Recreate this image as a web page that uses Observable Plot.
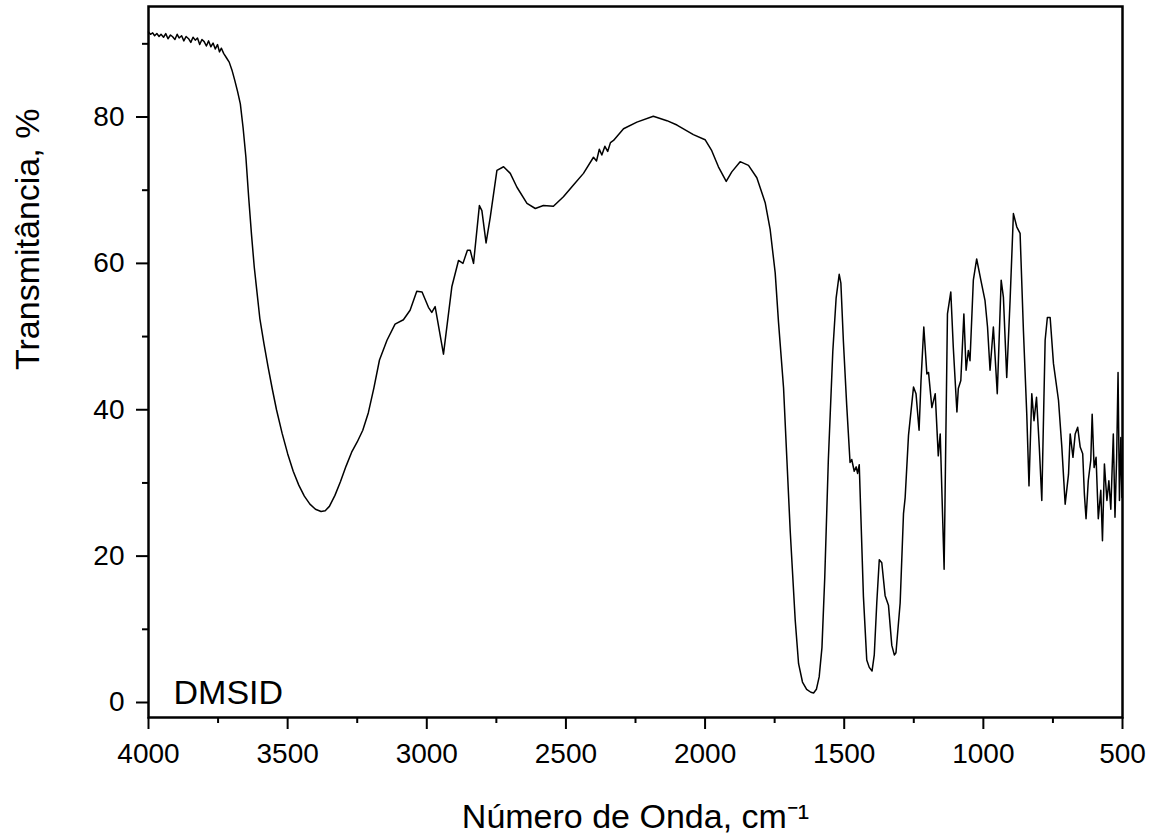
<!DOCTYPE html>
<html><head><meta charset="utf-8">
<script src="https://cdn.jsdelivr.net/npm/d3@7"></script>
<script src="https://cdn.jsdelivr.net/npm/@observablehq/plot@0.6"></script>
<style>
body{margin:0;background:#fff}
#chart{width:1155px;height:834px}
</style>
</head><body><div id="chart"></div>
<script>
const wavenumber = [4000,3993,3985,3978,3970,3962,3955,3946,3938,3930,3921,3914,3905,3897,3890,3881,3873,3865,3856,3848,3840,3832,3824,3816,3808,3800,3792,3784,3776,3768,3760,3752,3745,3738,3730,3720,3710,3700,3690,3680,3670,3660,3650,3640,3630,3620,3610,3600,3585,3570,3555,3540,3520,3500,3480,3460,3440,3420,3400,3380,3365,3350,3330,3310,3290,3270,3250,3230,3210,3190,3170,3143,3114,3084,3060,3036,3017,2994,2982,2970,2940,2910,2886,2870,2854,2844,2832,2811,2802,2787,2772,2748,2724,2700,2676,2640,2610,2581,2545,2509,2473,2437,2401,2390,2380,2371,2360,2350,2340,2329,2293,2245,2186,2137,2101,2042,2000,1976,1952,1924,1904,1874,1844,1814,1784,1766,1748,1736,1718,1706,1694,1676,1664,1650,1635,1620,1610,1600,1590,1580,1570,1557,1541,1529,1518,1512,1503,1491,1479,1473,1464,1457,1452,1446,1431,1419,1410,1400,1392,1383,1374,1365,1353,1341,1329,1320,1314,1299,1287,1281,1269,1251,1242,1231,1224,1214,1203,1197,1185,1173,1162,1155,1141,1129,1117,1108,1095,1090,1081,1070,1062,1054,1048,1036,1024,1009,994,985,976,964,950,936,928,916,904,892,880,868,856,844,836,826,818,809,799,790,778,770,760,748,730,718,706,694,688,678,670,661,652,643,637,631,623,614,609,602,595,587,578,572,565,556,549,542,533,527,521,516,511,506,502];
const transmittance = [91.6,91.3,91.5,91.1,91.4,91.0,91.3,90.9,91.4,90.7,91.2,91.0,90.6,91.3,90.8,91.1,90.4,91.0,90.7,90.2,90.9,90.5,90.8,89.9,90.6,90.3,89.7,90.4,89.6,90.1,89.3,89.9,88.9,89.4,88.7,88.1,87.5,86.4,85.0,83.5,81.8,78.5,74.5,69.0,64.0,59.5,56.0,52.5,49.0,45.8,42.8,40.0,36.8,34.0,31.6,29.7,28.2,27.1,26.4,26.1,26.2,26.8,28.3,30.2,32.3,34.2,35.6,37.2,39.6,43.0,46.8,49.5,51.7,52.3,53.6,56.2,56.1,54.0,53.3,54.1,47.6,56.8,60.4,60.0,61.8,61.8,60.0,67.9,67.2,62.8,66.3,72.7,73.2,72.3,70.4,68.2,67.5,67.9,67.8,69.1,70.7,72.3,74.5,74.0,75.6,74.8,76.0,75.3,76.5,76.8,78.4,79.3,80.1,79.5,78.9,77.6,76.9,75.4,73.2,71.2,72.5,73.9,73.4,71.7,68.3,64.6,58.7,51.9,43.0,33.2,23.4,11.2,5.3,2.8,1.8,1.4,1.3,1.8,3.5,7.5,17.0,33.2,48.0,55.3,58.5,57.3,49.4,40.6,32.8,33.2,31.6,32.2,31.3,32.5,14.5,5.8,4.8,4.3,6.5,13.6,19.5,19.1,14.6,13.3,7.8,6.5,6.8,13.6,25.8,28.0,36.5,43.1,42.2,37.2,44.0,51.3,44.9,45.1,40.3,42.2,33.7,36.7,18.2,53.1,56.1,48.5,39.7,42.9,44.0,53.1,45.4,48.1,46.7,57.7,60.6,57.7,54.9,51.3,45.4,51.3,42.2,57.7,55.4,44.4,54.9,66.8,65.0,64.1,50.8,39.4,29.6,42.2,38.5,41.7,34.9,27.6,49.5,52.6,52.6,46.3,41.3,34.9,27.1,31.2,36.7,33.5,36.7,37.6,34.9,34.0,28.5,25.1,30.3,33.1,39.4,32.1,33.5,25.1,29.0,22.1,32.6,27.6,30.3,26.4,36.7,25.3,33.5,45.1,27.6,36.2,28.0];
const xMajorTicks = [4000,3500,3000,2500,2000,1500,1000,500];
const xMinorTicks = [3750,3250,2750,2250,1750,1250,750];
const yMajorTicks = [0,20,40,60,80];
const yMinorTicks = [10,30,50,70,90];
const sampleLabel = ["DMSID"];
const xTitle = ["Número de Onda, cm⁻¹"];
const yTitle = ["Transmitância, %"];

const spectrum = wavenumber.map((w, i) => ({w, t: transmittance[i]}));
const font = "'Liberation Sans', Arial, sans-serif";

const chart = Plot.plot({
  width: 1155, height: 834,
  marginLeft: 148, marginRight: 33, marginTop: 6, marginBottom: 117,
  style: {fontFamily: font, background: "white", color: "black"},
  x: {domain: [4000, 500]},
  y: {domain: [-2.05, 95.1]},
  marks: [
    Plot.line(spectrum, {x: "w", y: "t", stroke: "black", strokeWidth: 1.5}),
    Plot.axisX({ticks: xMajorTicks, tickSize: 12, tickPadding: 14, fontSize: 28, label: null, strokeWidth: 2, tickFormat: d => String(d)}),
    Plot.axisX({ticks: xMinorTicks, tickSize: 6, text: null, label: null, strokeWidth: 2}),
    Plot.axisY({ticks: yMajorTicks, tickSize: 12, tickPadding: 12, fontSize: 28, label: null, strokeWidth: 2, tickFormat: d => String(d)}),
    Plot.axisY({ticks: yMinorTicks, tickSize: 6, text: null, label: null, strokeWidth: 2}),
    Plot.frame({stroke: "black", strokeWidth: 2.5}),
    Plot.text(sampleLabel, {text: d => d, frameAnchor: "bottom-left", dx: 25, dy: -14, fontSize: 34, textAnchor: "start", lineAnchor: "bottom"}),
    Plot.text(xTitle, {text: d => d, frameAnchor: "bottom", dy: 110, fontSize: 34, lineAnchor: "bottom"}),
    Plot.text(yTitle, {text: d => d, frameAnchor: "left", dx: -120, dy: 8, rotate: -90, fontSize: 34})
  ]
});
document.getElementById("chart").appendChild(chart);
</script>
</body></html>
